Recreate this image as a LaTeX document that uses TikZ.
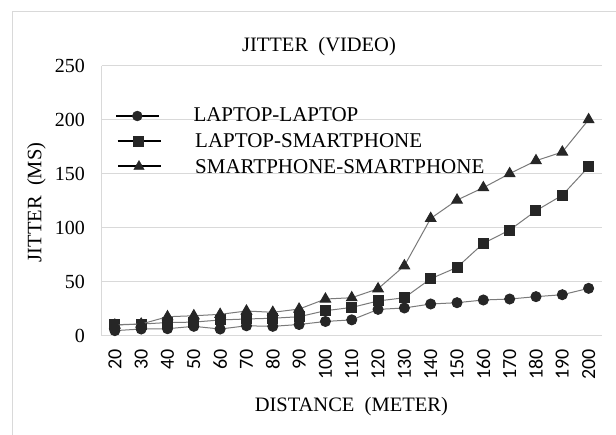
\documentclass[tikz,border=0pt]{standalone}
\usepackage{fontspec}
\usetikzlibrary{plotmarks}
\setmainfont{Liberation Serif}
\newfontfamily\tickfont{Carlito}
\definecolor{gridc}{HTML}{D9D9D9}
\definecolor{framec}{HTML}{D9D9D9}
\definecolor{serc}{HTML}{7A7A7A}
\definecolor{markc}{HTML}{262626}
\tikzset{
  gridline/.style={draw=gridc, line width=1.2pt},
  serline/.style={draw=serc, line width=1pt},
  legline/.style={draw=black, line width=1.4pt},
  ylab/.style={anchor=east, inner sep=0pt, font=\fontsize{20}{24}\selectfont},
  xlab/.style={anchor=east, rotate=90, inner sep=0pt, font=\tickfont\fontsize{20}{24}\selectfont},
  titletext/.style={anchor=base, inner sep=0pt, font=\fontsize{20.5}{24}\selectfont},
  legtext/.style={anchor=base west, inner sep=0pt, font=\fontsize{21}{25}\selectfont},
  circmark/.style={mark=*, mark size=5pt, mark options={fill=markc, draw=markc}},
  sqmark/.style={mark=square*, mark size=5pt, mark options={fill=markc, draw=markc}},
  trimark/.style={mark=triangle*, mark size=6pt, mark options={fill=markc, draw=markc}}
}
\begin{document}
\begin{tikzpicture}[x=1pt, y=-1pt]
\useasboundingbox (0,0) rectangle (616,434);
\fill[white] (0,0) rectangle (616,434);
% outer frame
\draw[framec, line width=1pt] (12.7,436) -- (12.7,11.7) -- (618,11.7);
% gridlines
\foreach \v in {50,100,150,200,250}
  \draw[gridline] (101.7,{335.5-1.0792*\v}) -- (602,{335.5-1.0792*\v});
\draw[gridline] (101.7,335.5) -- (602,335.5);
\draw[gridline] (101.7,65.7) -- (101.7,335.5);
% y tick labels
\foreach \v in {0,50,100,150,200,250}
  \node[ylab] (yl\v) at (85,{335.5-1.0792*\v}) {\v};
% x tick labels
\foreach \d [count=\i from 0] in {20,30,40,50,60,70,80,90,100,110,120,130,140,150,160,170,180,190,200}
  \node[xlab] (xl\d) at ({101.7+26.32*(\i+0.5)},349) {\d};
% titles
\node[titletext] (title) at (319,51.7) {JITTER~~(VIDEO)};
\node[titletext] (xtitle) at (351.3,411.7) {DISTANCE~~(METER)};
\node[titletext, rotate=90] (ytitle) at (41.5,202.5) {JITTER~~(MS)};
% data series
\begin{scope}[shift={(101.7,335.5)}, x=26.32pt, y=1.0792pt]
\draw[serline] plot[circmark] coordinates {(0.5,4.5) (1.5,6) (2.5,6.3) (3.5,8.5) (4.5,6) (5.5,9) (6.5,8.5) (7.5,10.2) (8.5,13) (9.5,14.5) (10.5,24.2) (11.5,25.5) (12.5,29.2) (13.5,30.4) (14.5,32.9) (15.5,33.8) (16.5,36) (17.5,37.8) (18.5,43.7)};
\draw[serline] plot[sqmark] coordinates {(0.5,10) (1.5,10.6) (2.5,12) (3.5,12.4) (4.5,14.4) (5.5,15.3) (6.5,16) (7.5,17.4) (8.5,23) (9.5,26) (10.5,32) (11.5,35) (12.5,52.6) (13.5,63.1) (14.5,85.4) (15.5,97.7) (16.5,115.6) (17.5,130) (18.5,156.3)};
\draw[serline] plot[trimark] coordinates {(0.5,9.7) (1.5,10.6) (2.5,17.4) (3.5,18.3) (4.5,19.6) (5.5,22.7) (6.5,21.5) (7.5,24.5) (8.5,33.8) (9.5,35) (10.5,43.3) (11.5,64.6) (12.5,108.5) (13.5,125.5) (14.5,137) (15.5,150) (16.5,162) (17.5,170) (18.5,200)};
\end{scope}
% legend
\coordinate (l1a) at (116,116);  \coordinate (l1b) at (159.3,116);
\coordinate (l2a) at (117.7,141); \coordinate (l2b) at (161,141);
\coordinate (l3a) at (118,166); \coordinate (l3b) at (161.3,166);
\draw[legline] (l1a) -- (l1b);
\draw[legline] (l2a) -- (l2b);
\draw[legline] (l3a) -- (l3b);
\draw plot[circmark] coordinates {(137.3,116)};
\draw plot[sqmark] coordinates {(138.3,141)};
\draw plot[trimark] coordinates {(139,166.5)};
\node[legtext] (t1) at (193.3,121.6) {LAPTOP-LAPTOP};
\node[legtext] (t2) at (195,147.3) {LAPTOP-SMARTPHONE};
\node[legtext] (t3) at (195,173) {SMARTPHONE-SMARTPHONE};
\end{tikzpicture}
\end{document}
